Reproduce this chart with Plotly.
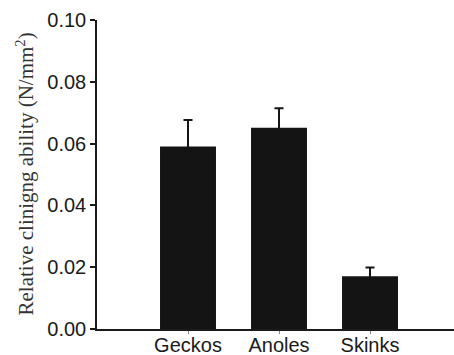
import plotly.graph_objects as go

categories = ["Geckos", "Anoles", "Skinks"]
values = [0.0591, 0.0651, 0.0171]
errors = [0.0085, 0.0063, 0.0028]
y_ticks = [0.00, 0.02, 0.04, 0.06, 0.08, 0.10]
y_tick_labels = ["0.00", "0.02", "0.04", "0.06", "0.08", "0.10"]
y_title = "Relative clinigng ability (N/mm<sup>2</sup>)"

positions = list(range(len(categories)))
bar_color = "#141414"

fig = go.Figure(go.Bar(
    x=positions,
    y=values,
    width=0.615,
    marker=dict(color=bar_color, line=dict(width=0)),
    error_y=dict(type="data", array=errors, symmetric=True,
                 color=bar_color, thickness=2, width=4.5),
))

fig.update_layout(
    width=454, height=355,
    margin=dict(l=97, r=0, t=20, b=26),
    plot_bgcolor="white", paper_bgcolor="white",
    showlegend=False,
    font=dict(family="Liberation Sans, Arial, sans-serif", color="#1a1a1a"),
    xaxis=dict(
        range=[-1, 2.923], automargin=False,
        tickmode="array", tickvals=positions, ticktext=categories,
        showline=True, linecolor="#1a1a1a", linewidth=1.5,
        ticks="outside", ticklen=3, tickcolor="#888888", tickwidth=1,
        ticklabelstandoff=-6,
        tickfont=dict(size=20), showgrid=False, zeroline=False,
    ),
    yaxis=dict(
        range=[0, 0.1], automargin=False,
        tickmode="array", tickvals=y_ticks, ticktext=y_tick_labels,
        showline=True, linecolor="#1a1a1a", linewidth=1.5,
        ticks="outside", ticklen=5, tickcolor="#1a1a1a", tickwidth=1.5,
        tickfont=dict(size=20), showgrid=False, zeroline=False,
    ),
    annotations=[dict(
        text=y_title, textangle=-90, showarrow=False,
        xref="paper", yref="paper", x=0, y=0.5, xanchor="center", yanchor="middle",
        xshift=-72,
        font=dict(family="Liberation Serif, Times New Roman, serif", size=21, color="#333333"),
    )],
)

fig.write_html("out.html", config={"displayModeBar": False},
               post_script="document.body.style.margin='0';document.body.style.overflow='hidden';")
